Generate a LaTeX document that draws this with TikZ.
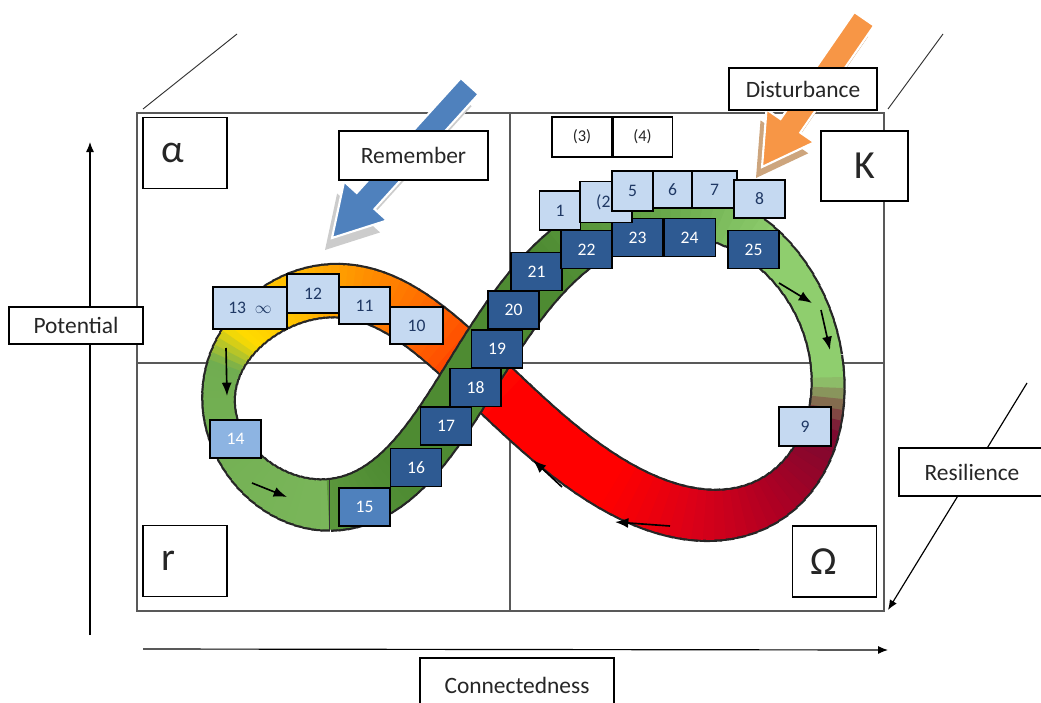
\documentclass[tikz,border=0pt]{standalone}
\usepackage{fontspec}
\setmainfont{Carlito}
\usepackage{tikz}
\usetikzlibrary{arrows.meta}
\usetikzlibrary{positioning}
\tikzset{>=latex}
\usepackage{xcolor}
\definecolor{lblue}{RGB}{197,217,241}
\definecolor{sblue}{RGB}{141,180,226}
\definecolor{mblue}{RGB}{79,129,189}
\definecolor{dblue}{RGB}{46,90,146}
\definecolor{navy}{RGB}{31,56,100}
\definecolor{lgreen}{RGB}{143,206,110}
\definecolor{tgreen}{RGB}{108,172,78}
\definecolor{mgreen}{RGB}{112,173,80}
\definecolor{pgreen}{RGB}{122,182,90}
\definecolor{sgreen}{RGB}{92,152,60}
\definecolor{dgreen}{RGB}{78,139,50}
\definecolor{maroon}{RGB}{122,10,48}
\definecolor{crimA}{RGB}{172,0,36}
\definecolor{crimB}{RGB}{218,0,24}
\definecolor{fred}{RGB}{255,0,0}
\definecolor{ored}{RGB}{255,80,0}
\definecolor{orA}{RGB}{255,115,0}
\definecolor{orB}{RGB}{255,150,0}
\definecolor{orC}{RGB}{255,186,0}
\definecolor{yel}{RGB}{255,220,0}
\definecolor{arrblue}{RGB}{79,129,189}
\definecolor{arrorange}{RGB}{247,150,70}
\definecolor{shadetan}{RGB}{205,165,125}
\tikzstyle{lbox}=[draw=black, line width=0.9pt, fill=lblue, text=navy, inner sep=0pt, minimum width=1.53cm, minimum height=1.14cm, font=\fontsize{15}{18}\selectfont]
\tikzstyle{dbox}=[lbox, fill=dblue, text=white]

% centre line of the band at t=#1
\newcommand{\bandpt}[3]{%
  \pgfmathsetmacro\bcs{cos(#1)}%
  \pgfmathsetmacro\bsn{sin(2*(#1))}%
  \pgfmathsetmacro#2{475+210*\bcs+47.5*\bcs*\bcs+93.5*\bcs*\bcs*\bcs+(17.5+7.5*\bcs)*\bsn}%
  \pgfmathsetmacro#3{370+(128.5+33.2*\bcs)*\bsn-26*\bcs+33*\bcs*\bcs-20*\bcs*\bcs*\bcs*\bcs}}
% band outline from t=#1 to t=#2
\newcommand{\bandedge}[2]{%
  \pgfmathtruncatemacro\nseg{max(1,round((#2-#1)/2))}%
  \pgfmathsetmacro\dt{(#2-#1)/\nseg}%
  \foreach \k in {1,...,\nseg}{%
    \pgfmathsetmacro\ta{#1+(\k-1)*\dt}%
    \pgfmathsetmacro\tb{#1+\k*\dt}%
    \pgfmathsetmacro\tc{max(#1,\ta-0.3)}%
    \pgfmathsetmacro\td{min(#2,\tb+0.3)}%
    \pgfmathsetmacro\tm{(\tc+\td)/2}%
    \bandpt{\tc}{\xa}{\ya}\bandpt{\tm}{\xm}{\ym}\bandpt{\td}{\xb}{\yb}%
    \pgfmathsetmacro\bcs{cos(\tm)}%
    \pgfmathsetmacro\lw{(56.5-22*\bcs*\bcs*\bcs*\bcs*\bcs*\bcs)*0.03}%
    \draw[line width=\lw cm, draw=black!85] (\xa,\ya) -- (\xm,\ym) -- (\xb,\yb);
  }}
% band colour from t=#1 (#3) to t=#2 (#4)
\newcommand{\bandpiece}[4]{%
  \pgfmathtruncatemacro\nseg{max(1,round((#2-#1)/2))}%
  \pgfmathsetmacro\dt{(#2-#1)/\nseg}%
  \foreach \k in {1,...,\nseg}{%
    \pgfmathsetmacro\ta{#1+(\k-1)*\dt}%
    \pgfmathsetmacro\tb{#1+\k*\dt}%
    \pgfmathsetmacro\tc{\ta-0.4}%
    \pgfmathsetmacro\td{\tb+0.4}%
    \pgfmathsetmacro\tm{(\tc+\td)/2}%
    \pgfmathtruncatemacro\pc{(\k-0.5)/\nseg*100}%
    \bandpt{\tc}{\xa}{\ya}\bandpt{\tm}{\xm}{\ym}\bandpt{\td}{\xb}{\yb}%
    \pgfmathsetmacro\bcs{cos(\tm)}%
    \pgfmathsetmacro\lw{(52-22*\bcs*\bcs*\bcs*\bcs*\bcs*\bcs)*0.03}%
    \draw[line width=\lw cm, draw={#4!\pc!#3}] (\xa,\ya) -- (\xm,\ym) -- (\xb,\yb);
  }}
\newcommand{\blockarrow}[1]{(0,0) -- (-50,29) -- (-50,12) -- (-#1,12) -- (-#1,-12) -- (-50,-12) -- (-50,-29) -- cycle}

\begin{document}
\begin{tikzpicture}[x=0.03cm, y=-0.03cm,
  lbl/.style={draw=black, fill=white, line width=0.9pt, text=black!85, inner sep=0pt, font=\fontsize{20}{24}\selectfont},
  big/.style={lbl, font=\fontsize{34}{40}\selectfont, minimum height=2.13cm, text width=1.44cm, inner xsep=0.54cm, align=left},
  grid/.style={draw=black!65, line width=1.4pt},
  flow/.style={-{Latex[length=4mm,width=3mm]}, line width=1.4pt},
  axis/.style={-{Latex[length=3mm,width=2.4mm]}, line width=1pt}]
\path[use as bounding box, clip] (0,0) rectangle (1041,702);

\draw[grid] (137,113) rectangle (884,611);
\draw[grid] (510,113) -- (510,611);
\draw[grid] (137,363) -- (884,363);
\draw[line width=0.8pt, black!80] (143,109) -- (237,34);
\draw[line width=0.8pt, black!80] (888,109) -- (943,34);

\coordinate (pot0) at (90,635);
\coordinate (pot1) at (90,142);
\coordinate (con0) at (143,649);
\coordinate (con1) at (888,650);
\coordinate (res0) at (1027,383);
\coordinate (res1) at (888,610);
\draw[axis] (pot0) -- (pot1);
\draw[axis] (con0) -- (con1);
\draw[axis] (res0) -- (res1);

\bandedge{0}{225}
\bandpiece{0}{4}{lgreen}{lgreen}
\bandpiece{4}{13}{lgreen}{maroon}
\bandpiece{13}{30}{maroon}{crimA}
\bandpiece{30}{47}{crimA}{crimB}
\bandpiece{47}{62}{crimB}{fred}
\bandpiece{62}{84}{fred}{fred}
\bandpiece{84}{96}{fred}{ored}
\bandpiece{96}{108}{ored}{orA}
\bandpiece{108}{122}{orA}{orB}
\bandpiece{122}{137}{orB}{orC}
\bandpiece{137}{157}{orC}{yel}
\bandpiece{157}{167}{yel}{mgreen}
\bandpiece{167}{225}{mgreen}{pgreen}
\bandedge{225}{360}
\bandpiece{225}{245}{sgreen}{dgreen}
\bandpiece{245}{292}{dgreen}{dgreen}
\bandpiece{292}{320}{dgreen}{tgreen}
\bandpiece{320}{338}{tgreen}{lgreen}
\bandpiece{338}{360}{lgreen}{lgreen}
\bandpt{225}{\sx}{\sy}
\coordinate (seam) at (\sx,\sy);
\draw[line width=0.8pt, black!80] ([yshift=0.74cm]seam) -- ([yshift=-0.74cm]seam);

\coordinate (f1a) at (226,348); \coordinate (f1b) at (227,396);
\coordinate (f2a) at (252,483); \coordinate (f2b) at (287,497);
\coordinate (f3a) at (779,283); \coordinate (f3b) at (812,303);
\coordinate (f4a) at (821,310); \coordinate (f4b) at (830,350);
\coordinate (f5a) at (670,526); \coordinate (f5b) at (615,522);
\coordinate (f6a) at (562,487); \coordinate (f6b) at (533,460);
\draw[flow] (f1a) -- (f1b);
\draw[flow] (f2a) -- (f2b);
\draw[flow] (f3a) -- (f3b);
\draw[flow] (f4a) -- (f4b);
\draw[flow] (f5a) -- (f5b);
\draw[flow] (f6a) -- (f6b);

\node[dbox] (b16) at (416,467.5) {16};
\node[dbox] (b17) at (446,426) {17};
\node[dbox] (b18) at (475.5,387.5) {18};
\node[dbox] (b19) at (497,349) {19};
\node[dbox] (b20) at (513.5,310) {20};
\node[dbox] (b21) at (536.5,271.5) {21};
\node[dbox] (b22) at (586.5,249.5) {22};
\node[dbox] (b23) at (637.5,237.5) {23};
\node[dbox] (b24) [right=0pt of b23] {24};
\node[dbox] (b25) at (753.5,249.5) {25};
\node[lbox, fill=mblue, text=white] (b15) at (364.5,507) {15};
\node[lbox, fill=sblue, text=white] (b14) at (235.5,439) {14};
\node[lbox, minimum width=2.22cm, minimum height=1.26cm] (b13) at (250,308) {13\enspace$\infty$};
\node[lbox, minimum width=1.56cm, minimum height=1.17cm] (b12) at (313,293.5) {12};
\node[lbox, minimum height=1.11cm] (b11) at (364.5,305.5) {11};
\node[lbox, minimum width=1.59cm, minimum height=1.11cm] (b10) at (416.5,325.5) {10};
\node[lbox, minimum width=1.56cm, minimum height=1.17cm] (b9) at (805,426.5) {9};
\node[lbox, minimum width=1.23cm, minimum height=1.17cm] (b1) at (560,210.5) {1};
\node[lbox, minimum width=1.56cm, minimum height=1.23cm] (b2) at (606,202) {(2\phantom{)}};
\node[lbox, minimum width=1.23cm, minimum height=1.2cm] (b5) at (632.5,191) {5};
\node[lbox, minimum width=1.17cm, minimum height=1.11cm] (b6) at (672.5,189.5) {6};
\node[lbox, minimum width=1.35cm, minimum height=1.11cm] (b7) at (714.5,189.5) {7};
\node[lbox] (b8) at (759.5,199) {8};

\fill[gray!40, shift={(325,250)}, rotate=227.8] \blockarrow{205};
\filldraw[fill=arrblue, draw=white, line width=1.8pt, shift={(332,238)}, rotate=227.8] \blockarrow{205};
\fill[shadetan, shift={(756,178)}, rotate=235.4] \blockarrow{180};
\filldraw[fill=arrorange, draw=white, line width=1.8pt, shift={(762,167)}, rotate=235.4] \blockarrow{180};

\node[lbl, minimum width=4.47cm, minimum height=1.47cm] (rem) at (413.5,155.5) {Remember};
\node[lbl, minimum width=4.44cm, minimum height=1.26cm] (dist) at (803,89) {Disturbance};
\node[lbl, minimum width=4.02cm, minimum height=1.11cm] (pot) at (76,325.5) {Potential};
\node[lbl, minimum width=4.38cm, minimum height=1.44cm] (res) at (972,472) {Resilience};
\node[lbl, minimum width=5.82cm, minimum height=1.62cm] (con) at (517,685) {Connectedness};
\node[lbl, font=\fontsize{14}{17}\selectfont, minimum width=1.8cm, minimum height=1.2cm] (p3) at (582,137) {(3)};
\node[lbl, font=\fontsize{14}{17}\selectfont, minimum width=1.77cm, minimum height=1.2cm] (p4) [right=0pt of p3] {(4)};
\node[big] (alpha) at (185,153) {α};
\node[big] (rr) at (185,561) {r};
\node[big] (omega) at (834.5,561.5) {Ω};
\node[lbl, font=\fontsize{34}{40}\selectfont, minimum width=2.61cm, minimum height=2.1cm] (kk) at (864.5,166) {K};
\end{tikzpicture}
\end{document}
